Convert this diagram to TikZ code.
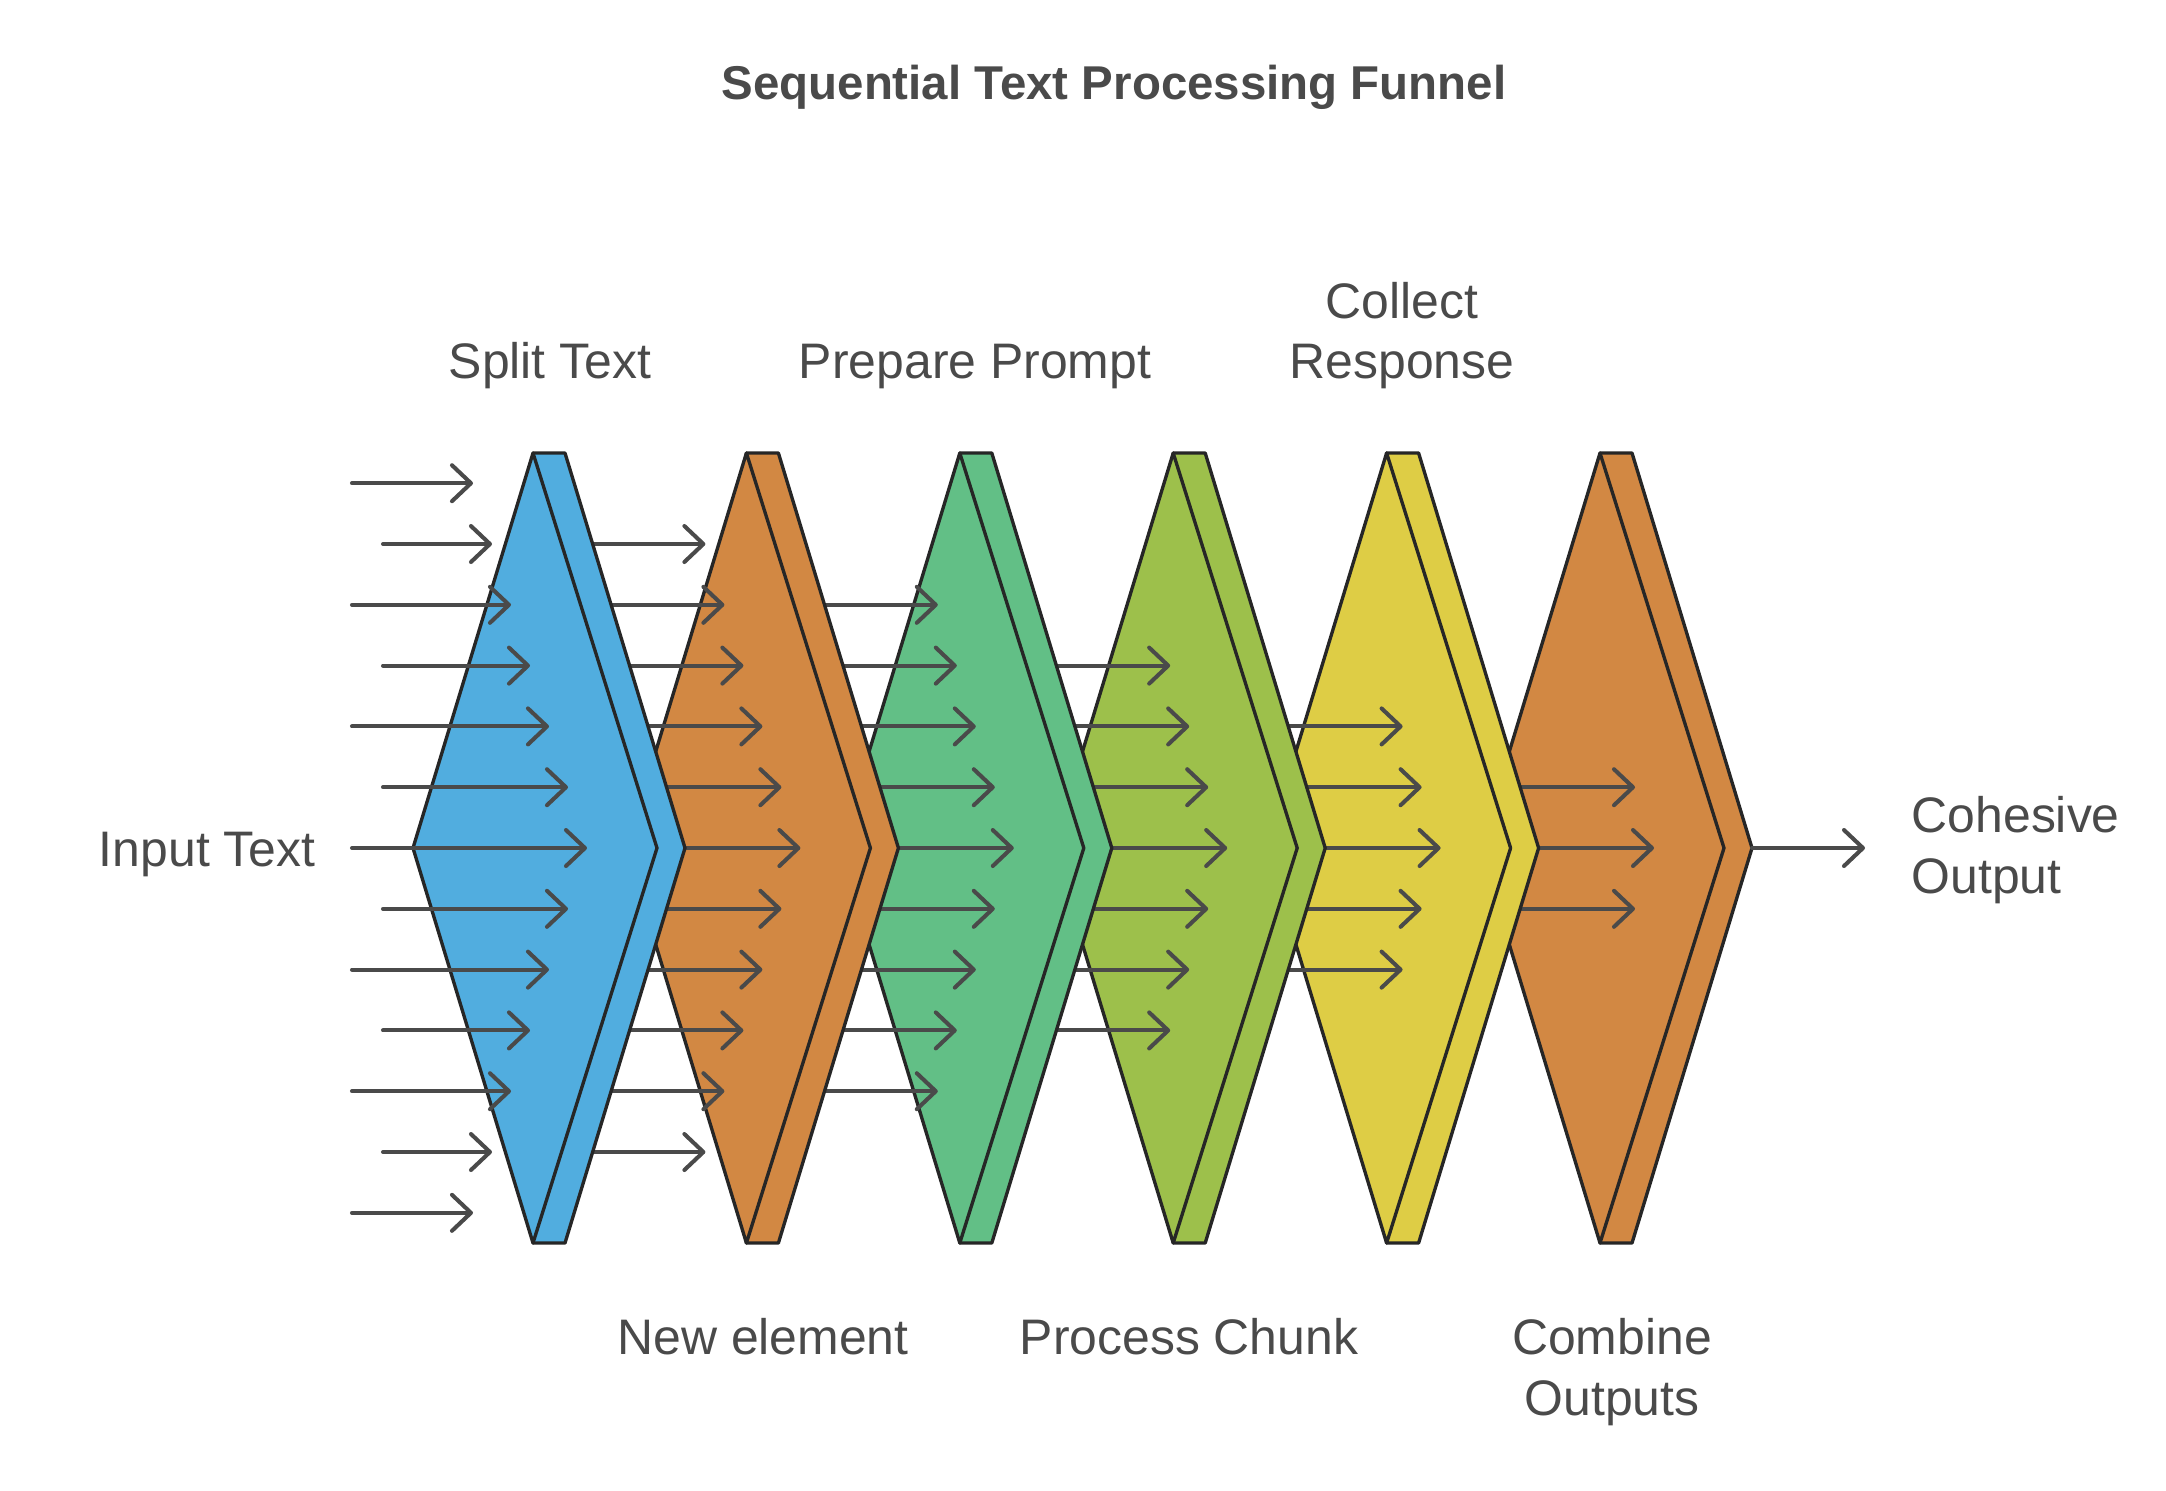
\documentclass[tikz,border=0pt]{standalone}
\usepackage{fontspec}
\setmainfont{Liberation Sans}
\usepackage{xcolor}
\usepackage{tikz}
\usetikzlibrary{arrows.meta}
\definecolor{stageblue}{HTML}{51ADDF}
\definecolor{stageorange}{HTML}{D28843}
\definecolor{stagegreen}{HTML}{62BF86}
\definecolor{stagelime}{HTML}{9DC04B}
\definecolor{stageyellow}{HTML}{DECD45}
\definecolor{edgedark}{HTML}{262626}
\definecolor{inkgray}{HTML}{4A4A4A}

\begin{document}
\begin{tikzpicture}[x=0.1mm,y=-0.1mm,font=\fontsize{14.2}{17.3}\selectfont,
  stagebox/.style={draw=edgedark,line width=0.95pt,line join=round},
  flow/.style={draw=inkgray,line width=1.15pt,line cap=round,-{Straight Barb[length=1.9mm,width=3.6mm,round]}},
  lbl/.style={inner sep=0pt,text=inkgray,align=center}]
\useasboundingbox (0,0) rectangle (2166,1490);
% stages from right to left, each fan of arrows lies under the stage before it
\foreach \i/\col in {5/stageorange,4/stageyellow,3/stagelime,2/stagegreen,1/stageorange,0/stageblue}{
  \pgfmathsetmacro{\cx}{533+213.4*\i}
  \coordinate (tip\i) at (\cx+152,848);
  \draw[stagebox,fill=\col] (\cx,453) -- (\cx+32,453) -- (tip\i) -- (\cx+32,1243) -- (\cx,1243) -- cycle;
  \draw[stagebox,fill=\col] (\cx,453) -- (\cx+124,848) -- (\cx,1243) -- (\cx-120,848) -- cycle;
  \pgfmathtruncatemacro{\n}{6-\i}
  \foreach \k in {-\n,...,\n}{
    \pgfmathsetmacro{\xs}{\i==0 ? (mod(abs(\k),2)==1 ? 383 : 352) : \cx-213.4}
    \pgfmathsetmacro{\xe}{587+213.4*\i-19*abs(\k)}
    \pgfmathsetmacro{\yy}{848+60.8*\k}
    \draw[flow] (\xs,\yy) -- (\xe,\yy);
  }
}
\coordinate (outend) at (1865,848);
\draw[flow] (tip5) -- (outend);

\node[lbl,font=\bfseries\fontsize{13.5}{16}\selectfont] (title) at (1114,87) {Sequential Text Processing Funnel};
\node[lbl,anchor=south] (split) at (550,390) {Split Text};
\node[lbl,anchor=south] (prompt) at (975,390) {Prepare Prompt};
\node[lbl,anchor=south] (collect) at (1402,390) {Collect\\Response};
\node[lbl,anchor=north] (newel) at (763,1318) {New element};
\node[lbl,anchor=north] (chunk) at (1189,1318) {Process Chunk};
\node[lbl,anchor=north] (combine) at (1612,1318) {Combine\\Outputs};
\node[lbl,anchor=base east] (input) at (316,866) {Input Text};
\node[lbl,anchor=west,align=left] (output) at (1911,850) {Cohesive\\Output};
\end{tikzpicture}
\end{document}
